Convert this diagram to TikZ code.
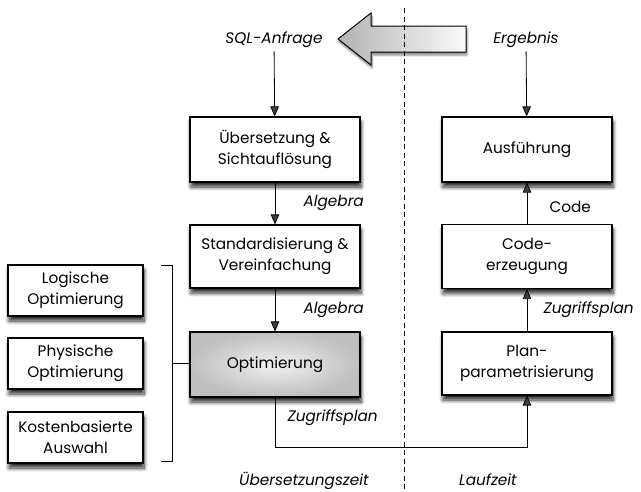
\documentclass[tikz,border=0pt]{standalone}
\usepackage{fontspec}
\setmainfont{Poppins}
\usetikzlibrary{arrows.meta,shadows.blur}
\begin{document}
\begin{tikzpicture}[x=1pt,y=-1pt,
  box/.style={draw,line width=1.1pt,fill=white,minimum width=170pt,align=center,inner xsep=2pt,
    font=\fontsize{15.3pt}{21pt}\selectfont,
    blur shadow={shadow xshift=1pt,shadow yshift=-5pt,shadow blur steps=8,shadow blur radius=4pt,shadow opacity=85}},
  sbox/.style={box,minimum width=135pt,minimum height=51pt},
  lbl/.style={font=\fontsize{15.3pt}{18pt}\selectfont\itshape},
  clbl/.style={font=\fontsize{15.3pt}{18pt}\selectfont},
  arr/.style={line width=0.8pt,-{Triangle[length=10pt,width=8.5pt]}}]
\useasboundingbox (0,0) rectangle (641,491);
% big arrow
\path[left color=gray!60,right color=gray!4,draw=black,line width=1pt,
  blur shadow={shadow xshift=1pt,shadow yshift=-3pt,shadow opacity=50}]
  (338,39) -- (371,13) -- (371,26) -- (466,26) -- (466,52) -- (371,52) -- (371,65) -- cycle;
% dashed separator
\draw[line width=0.8pt,dash pattern=on 5pt off 3.5pt] (404,8) -- (404,491);
% left column
\node[lbl] (sql) at (274,40) {SQL-Anfrage};
\node[box,minimum height=65pt] (b1) at (275,149.5) {Übersetzung \&\\Sichtauflösung};
\node[box,minimum height=63pt] (b2) at (275,256.5) {Standardisierung \&\\Vereinfachung};
\node[box,minimum height=65pt,draw,shading=radial,inner color=gray!12,outer color=gray!50] (b3) at (275,364.5) {Optimierung};
% right column
\node[lbl] (erg) at (526,40) {Ergebnis};
\node[box,minimum height=65pt] (r1) at (527,149.5) {Ausführung};
\node[box,minimum height=64pt] (r2) at (527,256.5) {Code-\\erzeugung};
\node[box,minimum height=63pt] (r3) at (527,363.5) {Plan-\\parametrisierung};
% small boxes
\node[sbox] (s1) at (75.5,290.5) {Logische\\Optimierung};
\node[sbox] (s2) at (75.5,363.5) {Physische\\Optimierung};
\node[sbox] (s3) at (75.5,437.5) {Kostenbasierte\\Auswahl};
% bracket
\coordinate (bt) at (172,265);
\coordinate (bb) at (172,461);
\coordinate (bm) at (172,363);
\draw[line width=0.8pt] ([xshift=-11pt]bt) -- (bt) -- (bb) -- ([xshift=-11pt]bb);
\draw[line width=0.8pt] (bm) -- (b3.west |- bm);
% arrows
\draw[arr] (sql) -- (b1);
\draw[arr] (b1) -- (b2);
\draw[arr] (b2) -- (b3);
\draw[arr] (erg) -- (r1);
\draw[arr] (r2) -- (r1);
\draw[arr] (r3) -- (r2);
\coordinate (turn) at (275,447);
\draw[arr] (b3.south) -- (turn) -| (r3.south);
% labels
\node[lbl,anchor=west] (a1) at (300,203) {Algebra};
\node[lbl,anchor=west] (a2) at (300,310) {Algebra};
\node[lbl,anchor=west] (z1) at (284,418) {Zugriffsplan};
\node[lbl,anchor=west] (z2) at (540,310) {Zugriffsplan};
\node[clbl,anchor=west] (c1) at (546,207) {Code};
\node[lbl] (t1) at (304,481) {Übersetzungszeit};
\node[lbl] (t2) at (488,480) {Laufzeit};
\end{tikzpicture}
\end{document}
